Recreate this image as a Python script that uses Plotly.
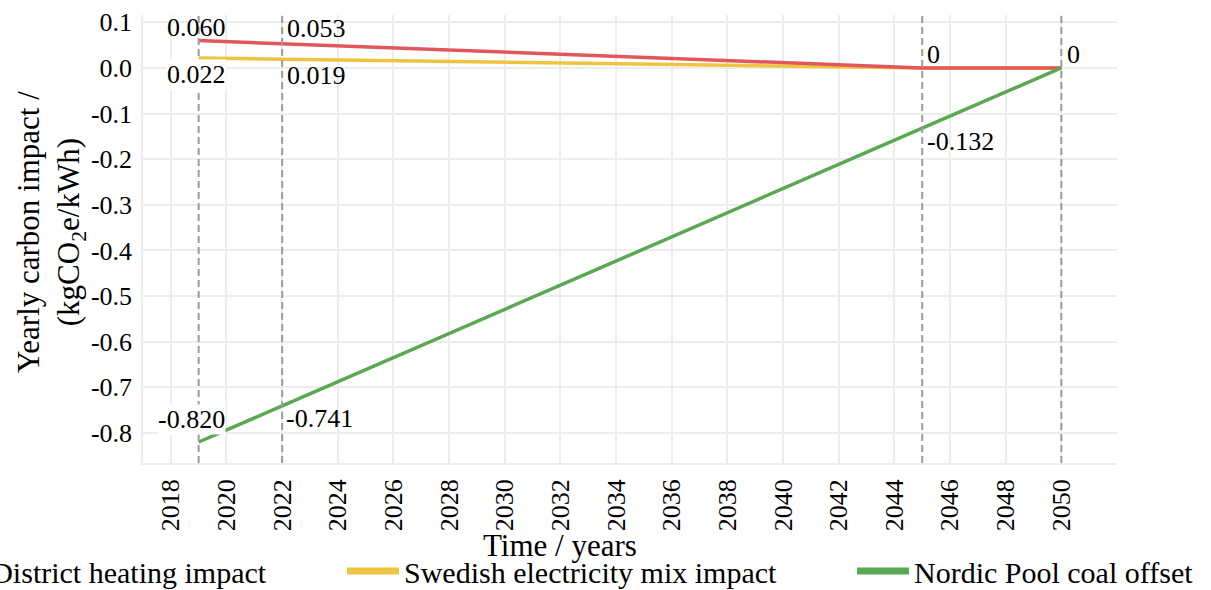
import plotly.graph_objects as go

# Yearly carbon impact in kgCO2e/kWh at the key years of the scenario
years = [2019, 2022, 2045, 2050]
district_heating = [0.060, 0.053, 0.0, 0.0]
swedish_mix = [0.022, 0.019, 0.0, 0.0]
nordic_coal_offset = [-0.820, -0.741, -0.132, 0.0]

series_names = [
    "District heating impact",
    "Swedish electricity mix impact",
    "Nordic Pool coal offset",
]

x_ticks = list(range(2018, 2051, 2))
y_ticks = [0.1, 0.0, -0.1, -0.2, -0.3, -0.4, -0.5, -0.6, -0.7, -0.8]
y_tick_labels = ["0.1", "0.0", "-0.1", "-0.2", "-0.3", "-0.4", "-0.5", "-0.6", "-0.7", "-0.8"]

FONT = "Liberation Serif"
RED = "#E2575C"
YELLOW = "#EEC443"
GREEN = "#5AA851"
colors = [RED, YELLOW, GREEN]

fig = go.Figure()

# data lines (yellow under red so the red shows where both reach zero)
for vals, col in [(swedish_mix, YELLOW), (district_heating, RED), (nordic_coal_offset, GREEN)]:
    fig.add_trace(go.Scatter(
        x=years, y=vals, mode="lines",
        line=dict(color=col, width=3.5),
        showlegend=False, hoverinfo="x+y",
    ))

# legend entries, each in its own legend box along the bottom
legend_keys = ["legend", "legend2", "legend3"]
legend_x = [-0.2195, 0.2043, 0.7279]
for name, col, key in zip(series_names, colors, legend_keys):
    fig.add_trace(go.Scatter(
        x=[None], y=[None], mode="lines", name=name,
        line=dict(color=col, width=7),
        legend=key, showlegend=True,
    ))

legend_style = dict(
    orientation="h", xanchor="left", yanchor="middle", y=-0.241,
    font=dict(family=FONT, size=30, color="black"),
    itemwidth=52, bgcolor="rgba(0,0,0,0)", borderwidth=0,
)

# vertical markers at the milestone years and a dotted zero reference
shapes = []
for yr in years:
    shapes.append(dict(
        type="line", xref="x", yref="paper", x0=yr, x1=yr, y0=0, y1=1,
        line=dict(color="#9C9C9C", width=2, dash="7px,4px"), layer="above",
    ))
shapes.append(dict(
    type="line", xref="paper", yref="y", x0=0, x1=1, y0=0, y1=0,
    line=dict(color="#C8C8C8", width=1, dash="dot"), layer="below",
))


def fmt(v):
    return "0" if v == 0 else f"{v:.3f}"


# value labels: (series, index, xanchor, xshift, yshift, white background)
label_specs = [
    (district_heating, 0, "right", 28, 13, False),
    (swedish_mix, 0, "right", 28, -17, True),
    (district_heating, 1, "left", 4, 15, False),
    (swedish_mix, 1, "left", 4, -16, False),
    (district_heating, 2, "left", 4, 13, False),
    (district_heating, 3, "left", 5, 13, False),
    (nordic_coal_offset, 2, "left", 4, -13, False),
    (nordic_coal_offset, 0, "right", 27, 23, True),
    (nordic_coal_offset, 1, "left", 3, -13, False),
]
annotations = []
for vals, i, xa, xs, ys, bg in label_specs:
    annotations.append(dict(
        x=years[i], y=vals[i], xref="x", yref="y", text=fmt(vals[i]),
        showarrow=False, xanchor=xa, yanchor="middle", xshift=xs, yshift=ys,
        font=dict(family=FONT, size=26, color="black"),
        bgcolor="white" if bg else "rgba(0,0,0,0)", borderpad=0,
    ))

# axis titles
annotations.append(dict(
    x=(560 - 143) / 974, y=(463 - 545) / 448, xref="paper", yref="paper",
    text="Time / years", showarrow=False, xanchor="center", yanchor="middle",
    font=dict(family=FONT, size=31, color="black"),
))
annotations.append(dict(
    x=(51 - 143) / 974, y=(463 - 232) / 448, xref="paper", yref="paper",
    text="Yearly carbon impact /<br>(kgCO<sub>2</sub>e/kWh)", showarrow=False,
    textangle=-90, xanchor="center", yanchor="middle",
    font=dict(family=FONT, size=31, color="black"),
))

fig.update_layout(
    width=1211, height=590,
    margin=dict(l=143, r=94, t=15, b=127, autoexpand=False),
    paper_bgcolor="white", plot_bgcolor="white",
    font=dict(family=FONT, size=26, color="black"),
    shapes=shapes, annotations=annotations,
    legend=dict(x=legend_x[0], **legend_style),
    legend2=dict(x=legend_x[1], **legend_style),
    legend3=dict(x=legend_x[2], **legend_style),
    xaxis=dict(
        range=[2017, 2052], tickvals=x_ticks, tickangle=-90,
        tickfont=dict(family=FONT, size=26, color="black"),
        showgrid=True, gridcolor="#EDEDED", gridwidth=1.5,
        showline=True, linecolor="#EDEDED", linewidth=1.5,
        zeroline=False, ticks="", ticklabelstandoff=4,
    ),
    yaxis=dict(
        range=[-0.866, 0.116], tickvals=y_ticks, ticktext=y_tick_labels,
        tickfont=dict(family=FONT, size=26, color="black"),
        showgrid=True, gridcolor="#EDEDED", gridwidth=1.5,
        showline=True, linecolor="#EDEDED", linewidth=1.5,
        zeroline=False, ticks="", ticklabelstandoff=4,
    ),
)

fig.write_html("out.html")
